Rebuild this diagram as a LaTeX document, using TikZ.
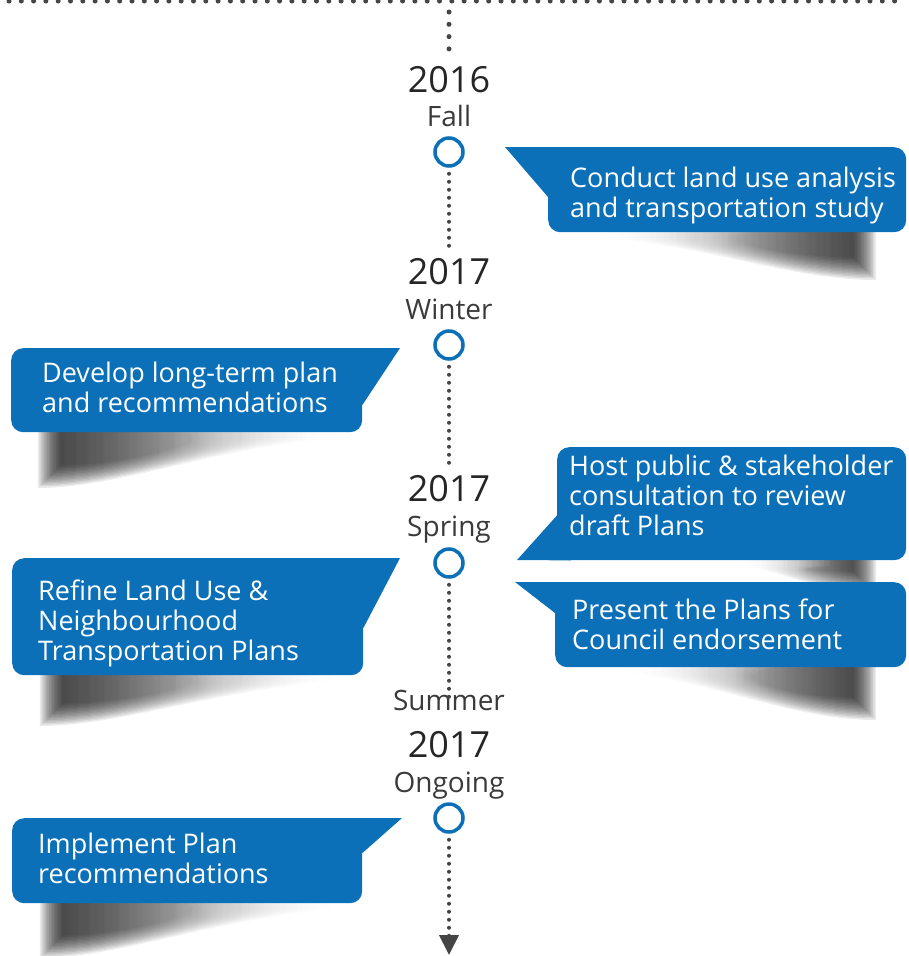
\documentclass[tikz,border=0pt]{standalone}
\usepackage{fontspec}
\setmainfont{Open Sans}
\usetikzlibrary{arrows.meta,calc,fadings}
\definecolor{calloutblue}{HTML}{0B70B8}
\definecolor{yearink}{HTML}{262626}
\definecolor{seasonink}{HTML}{3A3A3A}
\definecolor{dotgray}{HTML}{454545}
\tikzset{
  bubble/.style={
    rectangle, rounded corners=12pt, fill=calloutblue,
    inner sep=0pt, anchor=north west
  },
  bubbletext/.style={
    text=white, align=left, inner sep=0pt, anchor=base west,
    font=\fontsize{27}{30}\selectfont
  },
  yearlabel/.style={text=yearink, inner sep=0pt, anchor=base, font=\fontsize{36}{40}\selectfont},
  seasonlabel/.style={text=seasonink, inner sep=0pt, anchor=base, font=\fontsize{28}{30}\selectfont},
  milestone/.style={circle, draw=calloutblue, line width=3.5pt, fill=white, minimum size=28pt, inner sep=0pt},
  bigdots/.style={draw=dotgray, line width=5pt, line cap=round, dash pattern=on 0pt off 12.3pt},
  smalldots/.style={draw=dotgray, line width=4pt, line cap=round, dash pattern=on 0pt off 8pt},
  shadowleft/.style={fill=black, fill opacity=0.08, path fading=east},
  shadowright/.style={fill=black, fill opacity=0.08, path fading=west},
}

\begin{document}
\begin{tikzpicture}[x=1pt, y=-1pt]
  \useasboundingbox (0,0) rectangle (909,956);

  % shadows under the callouts
  \foreach \k in {0,...,15} {
    % right-hand callouts, heavy end on the right
    \fill[shadowright] ({600+10*\k},220) -- ({876-1.5*\k},220) -- ({876-1.5*\k},{280-1.5*\k})
      .. controls ({790},{280-1.5*\k}) and (700,{244-0.3*\k}) .. ({600+10*\k},{238-0.3*\k}) -- cycle;
    \fill[shadowright] ({740+6*\k},548) -- ({876-1.5*\k},548) -- ({876-1.5*\k},{594-1.5*\k})
      .. controls ({820},{594-1.5*\k}) and (780,{570}) .. ({740+6*\k},{566}) -- cycle;
    \fill[shadowright] ({625+10*\k},655) -- ({876-1.5*\k},655) -- ({876-1.5*\k},{720-1.5*\k})
      .. controls ({790},{720-1.5*\k}) and (710,{680-0.3*\k}) .. ({625+10*\k},{673-0.3*\k}) -- cycle;
    % left-hand callouts, heavy end on the left
    \fill[shadowleft] ({38+1.5*\k},420) -- ({338-10*\k},420) -- ({338-10*\k},{438-0.3*\k})
      .. controls (220,{446-0.3*\k}) and (120,{488-1.5*\k}) .. ({38+1.5*\k},{488-1.5*\k}) -- cycle;
    \fill[shadowleft] ({40+1.5*\k},662) -- ({338-10*\k},662) -- ({338-10*\k},{681-0.3*\k})
      .. controls (220,{689-0.3*\k}) and (120,{726-1.5*\k}) .. ({40+1.5*\k},{726-1.5*\k}) -- cycle;
    \fill[shadowleft] ({40+1.5*\k},890) -- ({338-10*\k},890) -- ({338-10*\k},{909-0.3*\k})
      .. controls (220,{917-0.3*\k}) and (120,{958-1.5*\k}) .. ({40+1.5*\k},{958-1.5*\k}) -- cycle;
  }

  % timeline
  \coordinate (railW) at (9,1);
  \coordinate (railE) at (900,1);
  \coordinate (topdot) at (449,12);
  \coordinate (tlend) at (449,955);

  \node[milestone] (c1) at (449,152) {};
  \node[milestone] (c2) at (449,345) {};
  \node[milestone] (c3) at (449,563) {};
  \node[milestone] (c4) at (449,818) {};

  \node[yearlabel] (yr1) at ($(c1)+(0,-60)$) {2016};
  \node[seasonlabel] (ssn1) at ($(c1)+(0,-26)$) {Fall};
  \node[yearlabel] (yr2) at ($(c2)+(0,-61)$) {2017};
  \node[seasonlabel] (ssn2) at ($(c2)+(0,-26)$) {Winter};
  \node[yearlabel] (yr3) at ($(c3)+(0,-62)$) {2017};
  \node[seasonlabel] (ssn3) at ($(c3)+(0,-27)$) {Spring};
  \node[seasonlabel] (summer) at (449,710) {Summer};
  \node[yearlabel] (yr4) at ($(c4)+(0,-61)$) {2017};
  \node[seasonlabel] (ssn4) at ($(c4)+(0,-26)$) {Ongoing};

  \draw[bigdots] (railW) -- (railE);
  \draw[bigdots, shorten >=10pt] (topdot) -- (yr1);
  \draw[smalldots, shorten <=6pt, shorten >=8pt] (c1) -- (yr2);
  \draw[smalldots, shorten <=6pt, shorten >=8pt] (c2) -- (yr3);
  \draw[smalldots, shorten <=6pt] (c3) -- ($(summer.north)+(0,9)$);
  \draw[smalldots, shorten <=6pt, -{Triangle[length=20pt, width=19pt]}] (c4) -- (tlend);

  % callouts
  \coordinate (conduct-tip) at (505,147);
  \node[bubble, minimum width=358pt, minimum height=85pt] (conduct) at (548,147) {};
  \fill[calloutblue] (conduct-tip) -- ($(conduct.north west)+(14,0)$) -- ($(conduct.north west)+(0,50)$) -- cycle;
  \node[bubbletext] (conduct-txt) at ($(conduct.north west)+(22,70)$) {Conduct land use analysis\\and transportation study};

  \coordinate (develop-tip) at (400,348);
  \node[bubble, minimum width=351pt, minimum height=84pt] (develop) at (11,348) {};
  \fill[calloutblue] (develop-tip) -- ($(develop.north east)+(-14,0)$) -- ($(develop.north east)+(0,57)$) -- cycle;
  \node[bubbletext] (develop-txt) at ($(develop.north west)+(31,64)$) {Develop long-term plan\\and recommendations};

  \coordinate (host-tip) at (517,560);
  \node[bubble, minimum width=349pt, minimum height=113pt] (host) at (557,447) {};
  \fill[calloutblue] (host-tip) -- ($(host.south west)+(14,0)$) -- ($(host.south west)+(0,-45)$) -- cycle;
  \node[bubbletext] (host-txt) at ($(host.north west)+(12,88)$) {Host public \& stakeholder\\consultation to review\\draft Plans};

  \coordinate (present-tip) at (515,582);
  \node[bubble, minimum width=351pt, minimum height=85pt] (present) at (555,582) {};
  \fill[calloutblue] (present-tip) -- ($(present.north west)+(14,0)$) -- ($(present.north west)+(0,31)$) -- cycle;
  \node[bubbletext] (present-txt) at ($(present.north west)+(17,67)$) {Present the Plans for\\Council endorsement};

  \coordinate (refine-tip) at (400,558);
  \node[bubble, minimum width=351pt, minimum height=117pt] (refine) at (12,558) {};
  \fill[calloutblue] (refine-tip) -- ($(refine.north east)+(-14,0)$) -- ($(refine.north east)+(0,70)$) -- cycle;
  \node[bubbletext] (refine-txt) at ($(refine.north west)+(26,102)$) {Refine Land Use \&\\Neighbourhood\\Transportation Plans};

  \coordinate (implement-tip) at (402,818);
  \node[bubble, minimum width=350pt, minimum height=85pt] (implement) at (12,818) {};
  \fill[calloutblue] (implement-tip) -- ($(implement.north east)+(-14,0)$) -- ($(implement.north east)+(0,35)$) -- cycle;
  \node[bubbletext] (implement-txt) at ($(implement.north west)+(26,65)$) {Implement Plan\\recommendations};
\end{tikzpicture}
\end{document}
